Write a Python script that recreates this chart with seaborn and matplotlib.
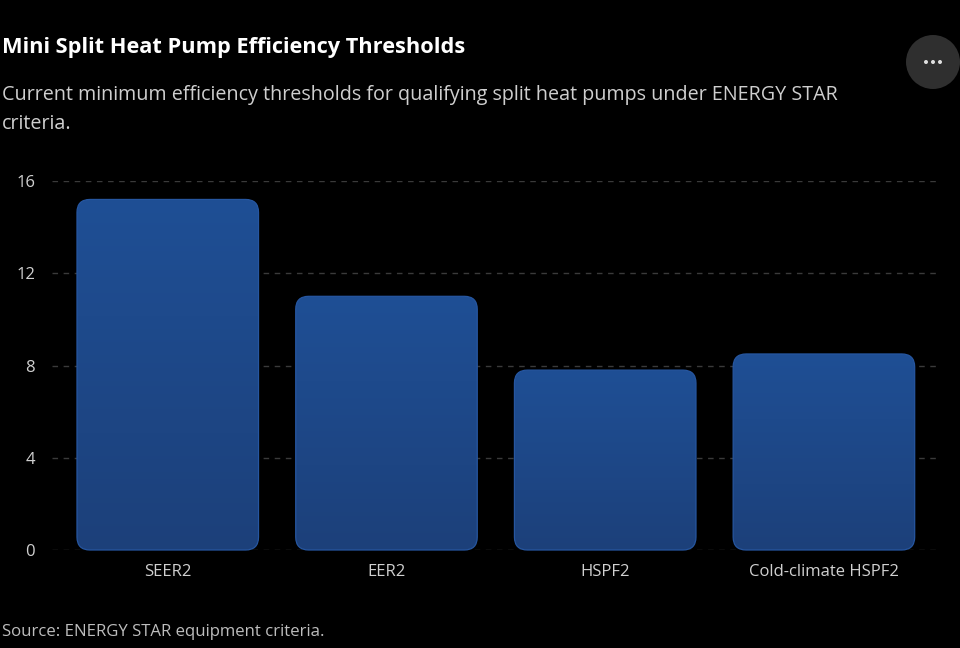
import matplotlib
matplotlib.use("Agg")
import matplotlib.pyplot as plt
import seaborn as sns
import numpy as np
import pandas as pd
from matplotlib.patches import FancyBboxPatch, Ellipse

# Data
metrics = ["SEER2", "EER2", "HSPF2", "Cold-climate HSPF2"]
thresholds = [15.2, 11.0, 7.8, 8.5]
y_ticks = [0, 4, 8, 12, 16]

title = "Mini Split Heat Pump Efficiency Thresholds"
subtitle = ("Current minimum efficiency thresholds for qualifying split heat pumps under ENERGY STAR\n"
            "criteria.")
source = "Source: ENERGY STAR equipment criteria."

sns.set_style("dark")
plt.rcParams["font.family"] = ["Open Sans", "DejaVu Sans"]

df = pd.DataFrame({"metric": metrics, "value": thresholds})

fig = plt.figure(figsize=(9.6, 6.48), dpi=100, facecolor="black")
ax = fig.add_axes([0.054, 1 - 550 / 648, 0.925, 369 / 648])
ax.set_facecolor("black")

sns.barplot(data=df, x="metric", y="value", color="#1f4e93", width=0.83, ax=ax)

ax.set_xlim(-0.53, 3.53)
ax.set_ylim(0, 16)
ax.set_yticks(y_ticks)
ax.set_xlabel("")
ax.set_ylabel("")

# swap the plain bars for rounded ones with a soft vertical gradient
grad = np.linspace(0, 1, 256).reshape(-1, 1)
cmap = matplotlib.colors.LinearSegmentedColormap.from_list("bar", ["#1c407a", "#1f4f95"])
px_x = 0.925 * 960 / 4.06
px_y = 369 / 16
rad = 13 / px_x
for bar in list(ax.patches):
    x0, y0 = bar.get_x(), bar.get_y()
    w, h = bar.get_width(), bar.get_height()
    bar.remove()
    box = FancyBboxPatch((x0, y0), w, h,
                         boxstyle=f"round,pad=0,rounding_size={rad}",
                         mutation_aspect=px_x / px_y,
                         facecolor="none", edgecolor="#2656a0", linewidth=0.9,
                         zorder=3, clip_on=False)
    ax.add_patch(box)
    im = ax.imshow(grad, extent=(x0, x0 + w, y0, y0 + h), origin="lower",
                   cmap=cmap, aspect="auto", zorder=2)
    im.set_clip_path(box)
ax.set_xlim(-0.53, 3.53)
ax.set_ylim(0, 16)

ax.grid(axis="y", color="#3a3a3a", linestyle=(0, (4, 4)), linewidth=1)
ax.grid(axis="x", visible=False)
ax.set_axisbelow(True)
for s in ax.spines.values():
    s.set_visible(False)
ax.tick_params(axis="both", length=0, colors="#d0d0d0", labelsize=12)
ax.tick_params(axis="y", pad=12)
ax.tick_params(axis="x", pad=10)

fig.text(0.002, 1 - 48 / 648, title, color="white", fontsize=15.7, fontweight="bold", va="center")
fig.text(0.002, 1 - 95 / 648, subtitle, color="#cfcfcf", fontsize=14.2, va="top",
         linespacing=1.62, transform=fig.transFigure)
fig.texts[-1].set_y(1 - 85 / 648)
fig.text(0.002, 1 - 632 / 648, source, color="#bdbdbd", fontsize=12.1, va="center")

# menu button in top right corner
cx, cy = 933 / 960, 1 - 62 / 648
fig.patches.append(Ellipse((cx, cy), 54 / 960, 54 / 648, transform=fig.transFigure,
                           facecolor="#2f2f2f", edgecolor="none"))
for dx in (-7, 0, 7):
    fig.patches.append(Ellipse((cx + dx / 960, cy), 4 / 960, 4 / 648, transform=fig.transFigure,
                               facecolor="#e0e0e0", edgecolor="none"))

fig.savefig("out.png", dpi=100, facecolor="black")
